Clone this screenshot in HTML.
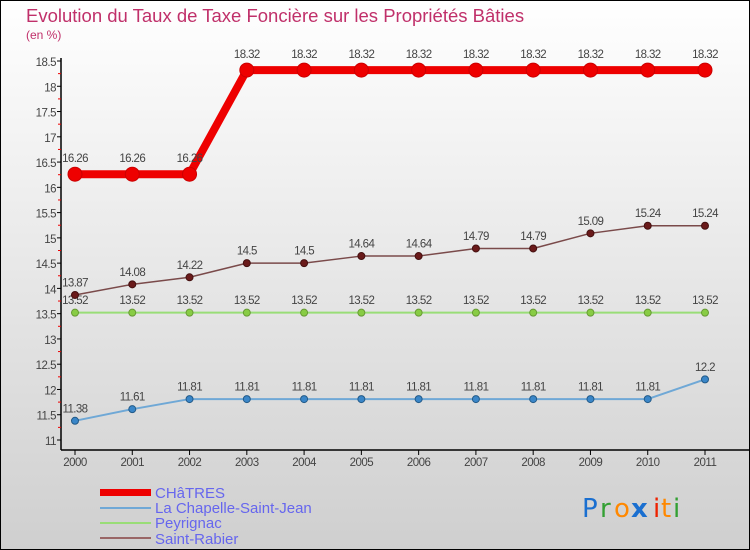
<!DOCTYPE html>
<html><head><meta charset="utf-8"><style>
html,body{margin:0;padding:0}
body{width:750px;height:550px;overflow:hidden;font-family:"Liberation Sans",sans-serif}
svg{display:block}
</style></head><body>
<svg width="750" height="550">
<defs><linearGradient id="bg" x1="0" y1="0" x2="0" y2="1"><stop offset="0" stop-color="#ffffff"/><stop offset="1" stop-color="#cfcfcf"/></linearGradient></defs>
<rect x="0.5" y="0.5" width="749" height="549" fill="url(#bg)" stroke="#000"/>
<text x="26" y="22" font-size="18.5" fill="#c0306a">Evolution du Taux de Taxe Foncière sur les Propriétés Bâties</text>
<text x="26" y="39" font-size="12" fill="#c0306a">(en %)</text>
<g id="axes"></g>
<g id="series"></g>
<g id="legend" font-size="15" fill="#6666ee">
<rect x="100" y="489" width="51" height="7" fill="#ee0000"/>
<text x="155" y="498" fill="#6666ee">CHâTRES</text>
<rect x="100" y="507" width="51" height="2" fill="#6fa8d6"/>
<text x="155" y="513" fill="#6666ee">La Chapelle-Saint-Jean</text>
<rect x="100" y="522" width="51" height="2" fill="#99dd77"/>
<text x="155" y="528" fill="#6666ee">Peyrignac</text>
<rect x="100" y="537" width="51" height="2" fill="#996666"/>
<text x="155" y="544" fill="#6666ee">Saint-Rabier</text>
</g>
<g font-size="26" font-family="'DejaVu Sans',sans-serif">
<text x="582" y="517" fill="#1a6fd0">P</text><text x="600" y="517" fill="#33a033">r</text><text x="614" y="517" fill="#ff8800">o</text><text x="631" y="517" fill="#1a6fd0" font-weight="bold">x</text><text x="653" y="517" fill="#ee2200">i</text><text x="661" y="517" fill="#ff8800">t</text><text x="673" y="517" fill="#33a033">i</text>
</g>
</svg>
<script>
const years=[2000,2001,2002,2003,2004,2005,2006,2007,2008,2009,2010,2011];
const yTicks=[11,11.5,12,12.5,13,13.5,14,14.5,15,15.5,16,16.5,17,17.5,18,18.5];
const chatres=[16.26,16.26,16.26,18.32,18.32,18.32,18.32,18.32,18.32,18.32,18.32,18.32];
const laChapelle=[11.38,11.61,11.81,11.81,11.81,11.81,11.81,11.81,11.81,11.81,11.81,12.2];
const peyrignac=[13.52,13.52,13.52,13.52,13.52,13.52,13.52,13.52,13.52,13.52,13.52,13.52];
const saintRabier=[13.87,14.08,14.22,14.5,14.5,14.64,14.64,14.79,14.79,15.09,15.24,15.24];
const chatresLabels=["16.26","16.26","16.26","18.32","18.32","18.32","18.32","18.32","18.32","18.32","18.32","18.32"];
const laChapelleLabels=["11.38","11.61","11.81","11.81","11.81","11.81","11.81","11.81","11.81","11.81","11.81","12.2"];
const peyrignacLabels=["13.52","13.52","13.52","13.52","13.52","13.52","13.52","13.52","13.52","13.52","13.52","13.52"];
const saintRabierLabels=["13.87","14.08","14.22","14.5","14.5","14.64","14.64","14.79","14.79","15.09","15.24","15.24"];
const NS="http://www.w3.org/2000/svg";
const x=i=>75+(705-75)*(years[i]-years[0])/(years[years.length-1]-years[0]);
const y=v=>61+(18.5-v)*(440-61)/(18.5-11);
function mk(t,a,p){const e=document.createElementNS(NS,t);for(const k in a)e.setAttribute(k,a[k]);p.appendChild(e);return e;}
const ax=document.getElementById('axes');
let l=mk('line',{x1:61,y1:58,x2:61,y2:450,stroke:'#000','stroke-width':1.5},ax);


l=mk('line',{x1:61,y1:450,x2:750,y2:450,stroke:'#000','stroke-width':1.5},ax);


yTicks.forEach(v=>{
 const t=mk('line',{x1:57,y1:y(v),x2:61,y2:y(v),stroke:'#000'},ax);
 
 
 if(v<18.5){const r=mk('line',{x1:58,y1:y(v+0.25),x2:61,y2:y(v+0.25),stroke:'#e00'},ax);
 
 }
 const tx=mk('text',{x:56,y:y(v)+5,'text-anchor':'end','font-size':11.5,fill:'#444','letter-spacing':'-0.5'},ax);
 tx.textContent=String(v);
 
 
});
years.forEach((yr,i)=>{
 const t=mk('line',{x1:x(i),y1:450,x2:x(i),y2:455,stroke:'#000'},ax);
 
 
 const tx=mk('text',{x:x(i),y:466,'text-anchor':'middle','font-size':11.5,fill:'#444','letter-spacing':'-0.5'},ax);
 tx.textContent=yr;
 
 
});
const sg=document.getElementById('series');
function series(vals,labels,name,color,w,r,fill,stroke){
 const g=mk('g',{},sg);
 
 
 const p=mk('polyline',{points:vals.map((v,i)=>x(i)+','+y(v)).join(' '),fill:'none',stroke:color,'stroke-width':w,'stroke-linejoin':'round'},g);
 
 
 vals.forEach((v,i)=>{
  const c=mk('circle',{cx:x(i),cy:y(v),r:r,fill:fill,stroke:stroke,'stroke-width':1},g);
  
  
  const t=mk('text',{x:x(i),y:y(v)-(r+5),'text-anchor':'middle','font-size':11.5,fill:'#444','letter-spacing':'-0.6'},g);
  t.textContent=labels[i];
  
  
 });
}
series(peyrignac,peyrignacLabels,'peyrignac','#99dd77',2,3.5,'#88cc44','#669933');
series(laChapelle,laChapelleLabels,'la-chapelle','#6fa8d6',2,3.5,'#3a86c8','#225a88');
series(saintRabier,saintRabierLabels,'saint-rabier','#7a4a4a',1.5,3.5,'#6a1a1a','#441010');
series(chatres,chatresLabels,'chatres','#ee0000',8,7,'#ee0000','#cc0000');
</script>
</body></html>
